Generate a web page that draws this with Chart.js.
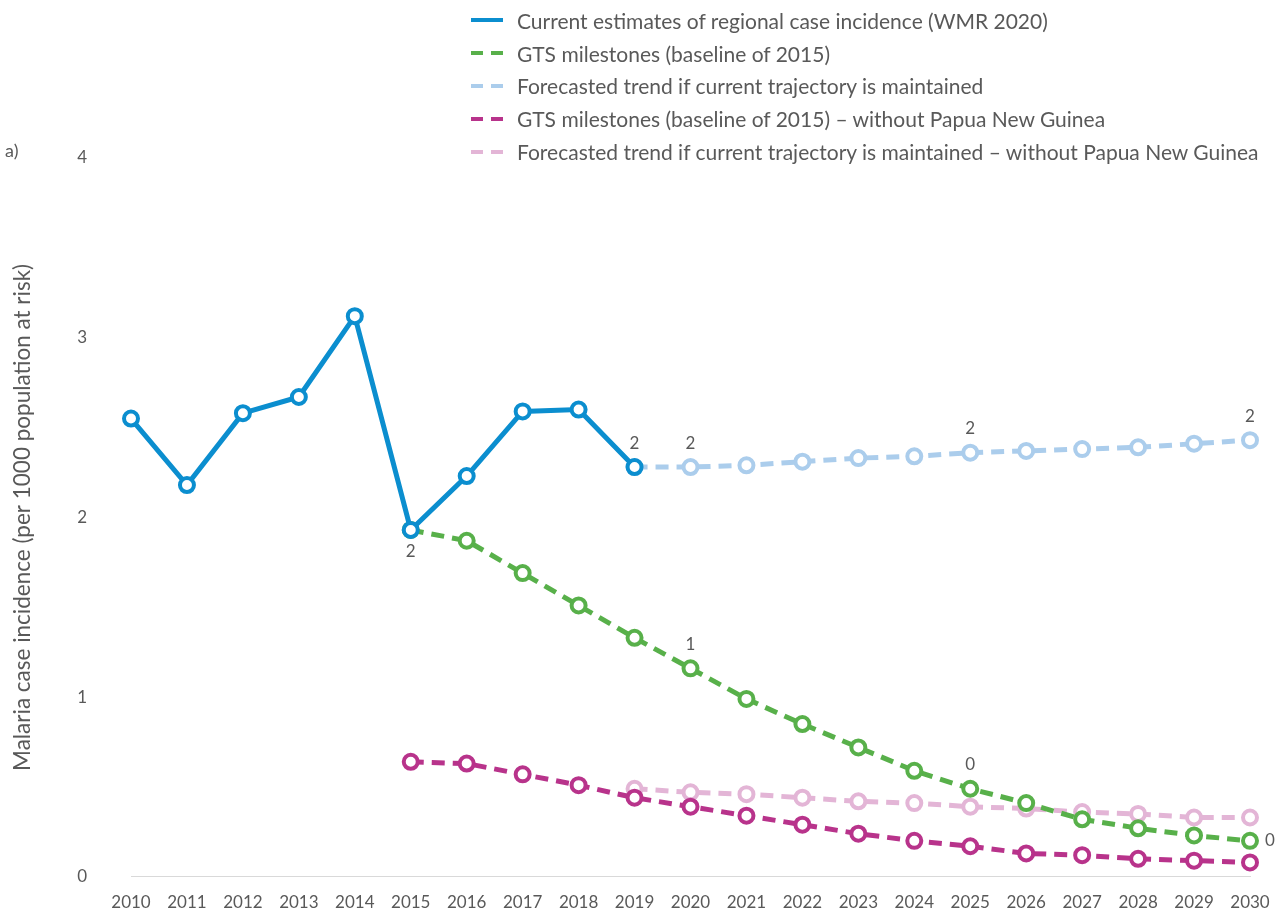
<!DOCTYPE html>
<html>
<head>
<meta charset="utf-8">
<title>Malaria case incidence</title>
<script src="https://cdn.jsdelivr.net/npm/chart.js@4/dist/chart.umd.min.js"></script>
<style>
  html, body { margin: 0; padding: 0; background: #fff; overflow: hidden; }
  body { font-family: Lato, "Noto Sans", sans-serif; color: #595959; }
  #wrap { position: relative; width: 1287px; height: 914px; overflow: hidden; }
  /* canvas runs a little past the bottom edge; Chart.js keeps some slack under the x axis */
  #box { position: absolute; left: 0; top: 0; width: 1287px; height: 931px; }
  #legend { position: absolute; left: 470px; top: 4px; }
  .row { height: 32.8px; display: flex; align-items: center; font-size: 21px; white-space: nowrap; }
  .row svg { margin-right: 13px; flex: none; }
  #tag { position: absolute; left: 5px; top: 139px; font-size: 18px; }
</style>
</head>
<body>
<div id="wrap">
  <div id="box"><canvas id="chart"></canvas></div>
  <div id="legend"></div>
  <div id="tag">a)</div>
</div>
<script>
// Regional malaria case incidence, per 1000 population at risk.
const years = ["2010","2011","2012","2013","2014","2015","2016","2017","2018","2019",
               "2020","2021","2022","2023","2024","2025","2026","2027","2028","2029","2030"];

// WMR 2020 estimates, 2010-2019
const currentEstimates = [2.55, 2.18, 2.58, 2.67, 3.12, 1.93, 2.23, 2.59, 2.60, 2.28,
                          null, null, null, null, null, null, null, null, null, null, null];

// GTS milestones from the 2015 baseline
const gtsMilestones = [null, null, null, null, null, 1.93, 1.87, 1.69, 1.51, 1.33,
                       1.16, 0.99, 0.85, 0.72, 0.59, 0.49, 0.41, 0.32, 0.27, 0.23, 0.20];

// trend if the current trajectory holds
const forecastTrend = [null, null, null, null, null, null, null, null, null, 2.28,
                       2.28, 2.29, 2.31, 2.33, 2.34, 2.36, 2.37, 2.38, 2.39, 2.41, 2.43];

// same two series, excluding Papua New Guinea
const gtsMilestonesNoPNG = [null, null, null, null, null, 0.64, 0.63, 0.57, 0.51, 0.44,
                            0.39, 0.34, 0.29, 0.24, 0.20, 0.17, 0.13, 0.12, 0.10, 0.09, 0.08];
const forecastTrendNoPNG = [null, null, null, null, null, null, null, null, null, 0.49,
                            0.47, 0.46, 0.44, 0.42, 0.41, 0.39, 0.38, 0.36, 0.35, 0.33, 0.33];

const yTicks = [0, 1, 2, 3, 4];

const TEXT = "#595959";
const FONT = "Lato, 'Noto Sans', sans-serif";

// legend order; `dash` empty = solid
const series = [
  { key: "current",  label: "Current estimates of regional case incidence (WMR 2020)", data: currentEstimates, color: "#0b8ecf", dash: [] },
  { key: "gts",      label: "GTS milestones (baseline of 2015)", data: gtsMilestones, color: "#58b04a", dash: [13, 8] },
  { key: "trend",    label: "Forecasted trend if current trajectory is maintained", data: forecastTrend, color: "#abcdec", dash: [13, 8] },
  { key: "gtsPNG",   label: "GTS milestones (baseline of 2015) \u2013 without Papua New Guinea", data: gtsMilestonesNoPNG, color: "#b8338b", dash: [13, 8] },
  { key: "trendPNG", label: "Forecasted trend if current trajectory is maintained \u2013 without Papua New Guinea", data: forecastTrendNoPNG, color: "#e3b5d6", dash: [13, 8] }
];

// which points carry a rounded value label, and where it sits
const valueLabels = [
  { key: "current", year: "2015", side: "below" },
  { key: "current", year: "2019", side: "above" },
  { key: "trend",   year: "2020", side: "above" },
  { key: "trend",   year: "2025", side: "above" },
  { key: "trend",   year: "2030", side: "above" },
  { key: "gts",     year: "2020", side: "above" },
  { key: "gts",     year: "2025", side: "above" },
  { key: "gts",     year: "2030", side: "right" }
];

// build the HTML legend with little line swatches
const legendEl = document.getElementById("legend");
series.forEach(s => {
  const row = document.createElement("div");
  row.className = "row";
  const dash = s.dash.length ? `stroke-dasharray="${s.dash[0] - 1} ${s.dash[1]}"` : "";
  row.innerHTML = `<svg width="34" height="8"><line x1="1" y1="4" x2="33" y2="4" stroke="${s.color}" stroke-width="4" ${dash}/></svg><span>${s.label}</span>`;
  legendEl.appendChild(row);
});

// top of the draw stack first: solid estimates, then magenta, green, pink, light blue
const drawOrder = ["current", "gtsPNG", "gts", "trendPNG", "trend"];
const datasets = drawOrder.map(k => {
  const s = series.find(x => x.key === k);
  return {
    key: s.key,
    label: s.label,
    data: s.data,
    borderColor: s.color,
    borderWidth: 5,
    borderDash: s.dash,
    pointRadius: 7,
    pointBorderWidth: 4,
    pointBorderColor: s.color,
    pointBackgroundColor: "#ffffff",
    spanGaps: false,
    tension: 0,
    clip: false
  };
});

const valueLabelPlugin = {
  id: "valueLabels",
  afterDatasetsDraw(chart) {
    const ctx = chart.ctx;
    ctx.save();
    ctx.font = `17px ${FONT}`;
    ctx.fillStyle = TEXT;
    valueLabels.forEach(v => {
      const di = chart.data.datasets.findIndex(d => d.key === v.key);
      const idx = years.indexOf(v.year);
      const pt = chart.getDatasetMeta(di).data[idx];
      const val = chart.data.datasets[di].data[idx];
      const txt = String(Math.round(val));
      let x = pt.x, y = pt.y;
      ctx.textAlign = "center";
      ctx.textBaseline = "middle";
      if (v.side === "above") y -= 24;
      else if (v.side === "below") y += 22;
      else { x += 15; ctx.textAlign = "left"; }
      ctx.fillText(txt, x, y);
    });
    ctx.restore();
  }
};

new Chart(document.getElementById("chart"), {
  type: "line",
  data: { labels: years, datasets },
  plugins: [valueLabelPlugin],
  options: {
    responsive: true,
    maintainAspectRatio: false,
    animation: false,
    layout: { padding: { top: 158, right: 37, bottom: 0, left: 0 } },
    plugins: { legend: { display: false }, tooltip: { enabled: false } },
    scales: {
      x: {
        type: "category",
        offset: false,
        grid: { display: false, drawTicks: false },
        border: { display: true, color: "#d9d9d9", width: 1 },
        ticks: { color: TEXT, font: { family: FONT, size: 17 }, padding: 16, maxRotation: 0, autoSkip: false },
        afterFit: s => { s.height = 37; }
      },
      y: {
        min: 0,
        max: 4,
        grid: { display: false, drawTicks: false },
        border: { display: false },
        afterBuildTicks: s => { s.ticks = yTicks.map(v => ({ value: v })); },
        ticks: { color: TEXT, font: { family: FONT, size: 17 }, padding: 44 },
        title: {
          display: true,
          text: "Malaria case incidence (per 1000 population at risk)",
          color: TEXT,
          font: { family: FONT, size: 22.5 },
          padding: { top: 9, bottom: 0 }
        },
        afterFit: s => { s.width = 131; }
      }
    }
  }
});
</script>
</body>
</html>
